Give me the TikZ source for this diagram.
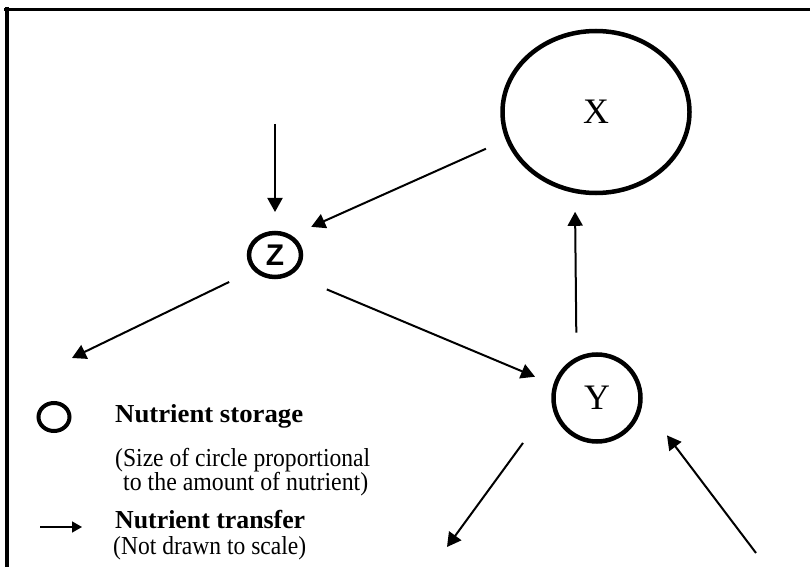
\documentclass[tikz,border=0pt]{standalone}
\usepackage{fontspec}
\setmainfont{Liberation Serif}
\newfontfamily\zfont{Liberation Sans}
\usetikzlibrary{arrows.meta,shapes.geometric}
\begin{document}
\begin{tikzpicture}[x=1bp,y=-1bp,
  store/.style={draw, ellipse, line width=4.5bp, inner sep=0pt, outer sep=0pt},
  flow/.style={line width=2bp, -{Triangle[length=14bp,width=15bp]}},
  frameline/.style={line width=3.5bp},
  lab/.style={anchor=base west, inner sep=0pt, font=\fontsize{26}{30}\selectfont}]
\useasboundingbox (0,0) rectangle (810,567);
\draw[frameline] (4,9.3) -- (810,9.3);
\draw[frameline] (7,7.5) -- (7,567);
% storages
\node[store, minimum width=187bp, minimum height=162bp, font=\fontsize{36}{42}\selectfont] (X) at (596,112) {X};
\node[store, minimum width=87bp, minimum height=87bp, font=\fontsize{36}{42}\selectfont] (Y) at (597,398) {Y};
\node[store, minimum width=52bp, minimum height=44bp, font=\zfont\bfseries\fontsize{30}{34}\selectfont] (Z) at (275,255) {Z};
% transfers
\coordinate (zin) at (275,124);
\draw[flow, shorten >=21bp] (zin) -- (Z.north);
\draw[flow, shorten <=24bp, shorten >=24bp] (X.197.3) -- (Z.52);
\draw[flow, shorten <=27bp, shorten >=20.9bp] (Y.118.9) -- (X.255.8);
\coordinate (zout) at (72,358);
\draw[flow, shorten <=29bp] (Z.216) -- (zout);
\draw[flow, shorten <=41bp, shorten >=22.1bp] (Z.307) -- (Y.163.6);
\coordinate (yout) at (447,547);
\draw[flow, shorten <=51.9bp] (Y.184.1) -- (yout);
\coordinate (yin) at (756,553);
\draw[flow, shorten >=44bp] (yin) -- (Y.357.5);
% legend
\node[store, line width=4bp, minimum width=31bp, minimum height=28bp] (leg) at (54,417) {};
\coordinate (la) at (40,527);
\coordinate (lb) at (82,527);
\draw[line width=1.6bp, -{Triangle[length=10bp,width=11bp]}] (la) -- (lb);
\node[lab] (t1) at (115,422) {\resizebox{188bp}{\height}{\bfseries Nutrient storage}};
\node[lab] (t2) at (115,466) {\resizebox{255bp}{\height}{(Size of circle proportional}};
\node[lab] (t3) at (123,490) {\resizebox{245bp}{\height}{to the amount of nutrient)}};
\node[lab] (t4) at (115,528) {\resizebox{190bp}{\height}{\bfseries Nutrient transfer}};
\node[lab] (t5) at (113,554) {\resizebox{193bp}{\height}{(Not drawn to scale)}};
\end{tikzpicture}
\end{document}
